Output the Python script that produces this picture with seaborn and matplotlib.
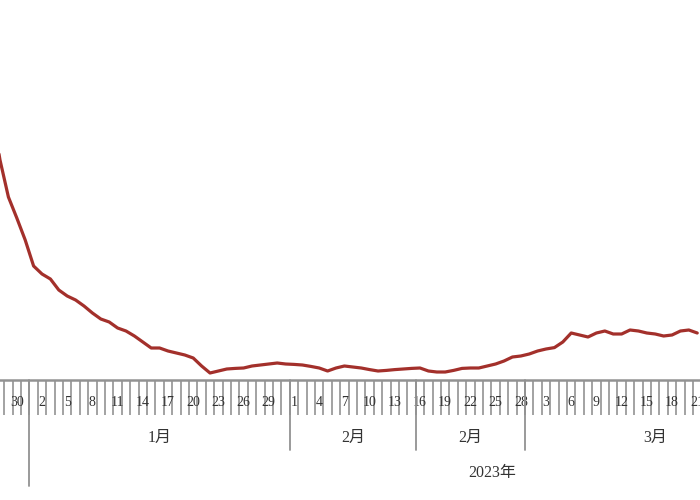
import pandas as pd
import numpy as np
import matplotlib.pyplot as plt
import matplotlib.transforms as mtransforms
import seaborn as sns

# daily values, 2022-12-27 .. 2023-03-21 (no y axis shown, arbitrary units)
start_date = '2022-12-27'
end_date = '2023-03-21'
values = [135, 110, 91.5, 81, 70, 57, 53, 50.5, 45, 42,
          40, 37, 33.5, 30.5, 29, 26, 24.5, 22, 19, 16,
          16, 14.5, 13.5, 12.5, 11, 7, 3.5, 4.5, 5.5, 5.8,
          6, 7, 7.5, 8, 8.5, 8, 7.8, 7.5, 6.8, 6,
          4.5, 6, 7, 6.5, 6, 5.2, 4.5, 4.8, 5.2, 5.5,
          5.8, 6, 4.5, 4, 4, 4.8, 5.8, 6, 6, 7,
          8, 9.5, 11.5, 12, 13, 14.5, 15.5, 16.2, 19, 23.5,
          22.5, 21.5, 23.5, 24.5, 23, 23, 25, 24.5, 23.5, 23,
          22, 22.5, 24.5, 25, 23.5]

# month bands on the ruler (as drawn in the source, February appears twice)
month_labels = ['1月', '2月', '2月', '3月']
month_starts = ['2023-01-01', '2023-02-01', '2023-02-16', '2023-03-01', '2023-04-01']
year_label = '2023年'

sns.set_style('white')
plt.rcParams['font.family'] = ['Liberation Serif', 'Noto Sans CJK SC']

dates = pd.date_range(start_date, end_date, freq='D')
origin = pd.Timestamp('2023-01-01')
day = (dates - origin).days.values
df = pd.DataFrame({'day': day, 'value': values})

fig = plt.figure(figsize=(7, 5), dpi=100)
ax = fig.add_axes([0, 0.24, 1, 0.76])
sns.lineplot(data=df, x='day', y='value', ax=ax, color='#a3302b', linewidth=2.3)

ax.set_xlabel('')
ax.set_ylabel('')
ax.set_yticks([])
for s in ['top', 'left', 'right']:
    ax.spines[s].set_visible(False)
grey = '#929292'
ax.spines['bottom'].set_color(grey)
ax.spines['bottom'].set_linewidth(1.8)

# ruler: one tick per day boundary, label every third day
ax.set_xticks(day - 0.5)
ax.set_xticklabels([])
ax.tick_params(axis='x', which='major', bottom=True, length=25, width=1.2,
               color=grey, direction='out')
ax.set_xticks(day[::3], minor=True)
ax.set_xticklabels([str(d.day) for d in dates[::3]], minor=True)
ax.tick_params(axis='x', which='minor', bottom=True, length=0, pad=11.5,
               labelsize=10, labelcolor='#333333')

ax.set_xlim(-4, 79.33)
ax.set_ylim(0, 190)

trans = mtransforms.blended_transform_factory(ax.transData, ax.transAxes)
bounds = [(pd.Timestamp(m) - origin).days - 0.5 for m in month_starts]
for i, b in enumerate(bounds[:-1]):
    low = -0.28 if i == 0 else -0.184
    ax.plot([b, b], [0, low], transform=trans, color=grey, lw=1.3, clip_on=False)
for lab, b0, b1 in zip(month_labels, bounds[:-1], bounds[1:]):
    ax.text((b0 + b1) / 2, -0.152, lab, transform=trans, ha='center', va='center',
            fontsize=11.5, color='#333333')
ax.text(54.6, -0.245, year_label, transform=trans, ha='center', va='center',
        fontsize=11.5, color='#333333')

plt.savefig('out.png', dpi=100)
